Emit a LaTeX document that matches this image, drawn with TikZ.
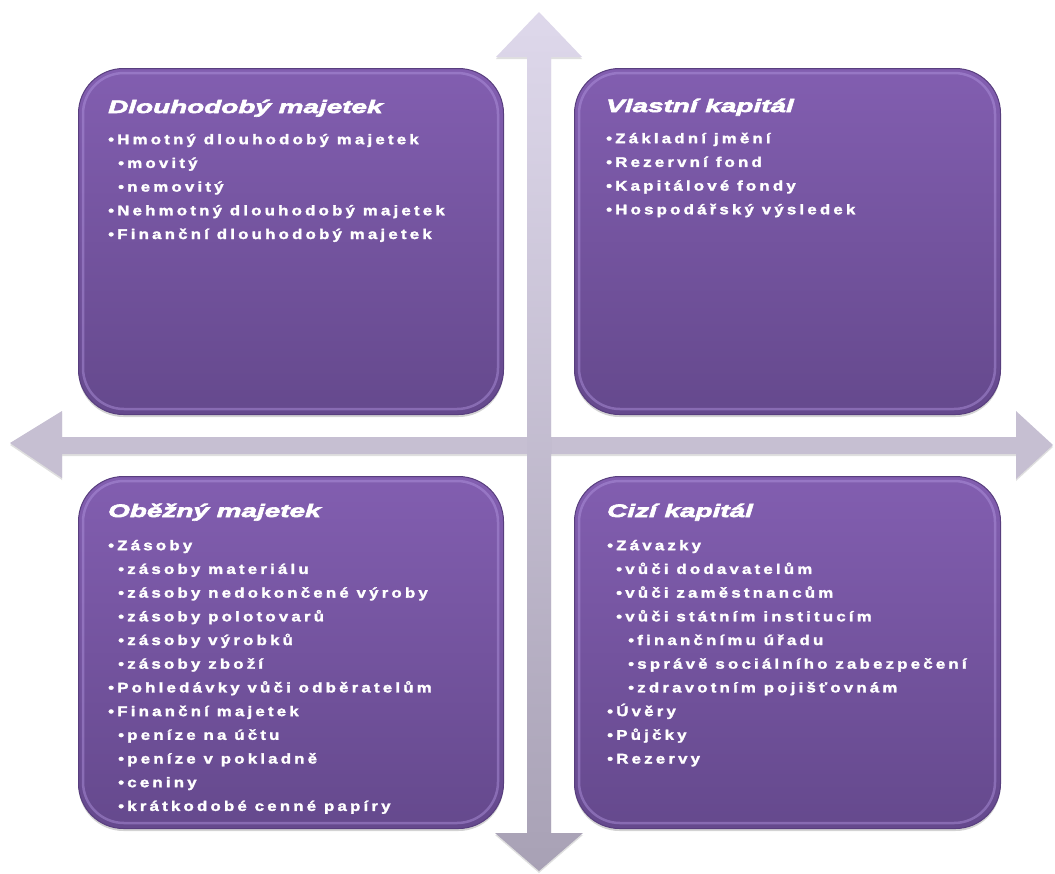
\documentclass[tikz,border=0pt]{standalone}
\usepackage{fontspec}
\newfontfamily\bodyfont[LetterSpace=23,FakeStretch=1.2,FakeBold=2]{Liberation Sans}
\newfontfamily\titlefont[FakeStretch=1.55,FakeBold=3.5]{Liberation Sans}
\usetikzlibrary{shadows}
\definecolor{boxtop}{RGB}{130,94,176}
\definecolor{boxbottom}{RGB}{101,73,141}
\definecolor{boxrim}{RGB}{88,62,126}
\definecolor{boxshine}{RGB}{178,150,224}
\definecolor{axistop}{RGB}{222,216,235}
\definecolor{axisbottom}{RGB}{168,161,181}
\definecolor{axismid}{RGB}{198,191,210}
\tikzset{
  quadbox/.style={rectangle, rounded corners=45pt, anchor=north west,
    top color=boxtop, bottom color=boxbottom, draw=boxrim, line width=1pt,
    drop shadow={opacity=0.35, shadow xshift=0pt, shadow yshift=-2.5pt}},
  bevel/.style={draw=boxshine, line width=2.5pt, opacity=0.45, rounded corners=41pt},
  boxtitle/.style={anchor=base west, inner sep=0pt, text=white,
    font=\titlefont\bfseries\itshape\fontsize{18}{20}\selectfont},
  boxitems/.style={anchor=north west, inner sep=0pt, text=white, align=left,
    font=\bodyfont\bfseries\fontsize{14}{23.7}\selectfont},
  axisarrow/.style={drop shadow={opacity=0.25, shadow xshift=0pt, shadow yshift=-2pt}}
}
\newcommand{\itemstrut}{\rule{0pt}{14pt}}
\begin{document}
\begin{tikzpicture}[x=1pt,y=-1pt]
  \useasboundingbox (0,0) rectangle (1055,873);

  % axes
  \path[axisarrow, fill=axismid] (10,443) -- (62,411) -- (62,437) -- (1016,437) -- (1016,411)
    -- (1053,445) -- (1016,479) -- (1016,454) -- (62,454) -- (62,478) -- cycle;
  \path[axisarrow, top color=axistop, bottom color=axisbottom] (539,12) -- (582,57) -- (551,57)
    -- (551,833) -- (583,833) -- (539,871) -- (495,833) -- (527,833) -- (527,57) -- (496,57) -- cycle;

  % quadrants
  \node[quadbox, minimum width=425pt, minimum height=346pt] (dlouhodoby) at (78,68) {};
  \node[quadbox, minimum width=426pt, minimum height=346pt] (vlastni) at (574,68) {};
  \node[quadbox, minimum width=425pt, minimum height=352pt] (obezny) at (78,476) {};
  \node[quadbox, minimum width=426pt, minimum height=352pt] (cizi) at (574,476) {};

  \draw[bevel] (83,73) rectangle (498,409);
  \draw[bevel] (579,73) rectangle (995,409);
  \draw[bevel] (83,481) rectangle (498,823);
  \draw[bevel] (579,481) rectangle (995,823);

  % texts
  \node[boxtitle] (dlouhodoby-title) at (108,113) {Dlouhodobý majetek};
  \node[boxitems] (dlouhodoby-items) at (108,130) {\itemstrut•Hmotný dlouhodobý majetek\\
    \hspace*{10pt}•movitý\\
    \hspace*{10pt}•nemovitý\\
    •Nehmotný dlouhodobý majetek\\
    •Finanční dlouhodobý majetek};

  \node[boxtitle] (vlastni-title) at (606,112) {Vlastní kapitál};
  \node[boxitems] (vlastni-items) at (606,129) {\itemstrut•Základní jmění\\
    •Rezervní fond\\
    •Kapitálové fondy\\
    •Hospodářský výsledek};

  \node[boxtitle] (obezny-title) at (108,517) {Oběžný majetek};
  \node[boxitems] (obezny-items) at (108,536) {\itemstrut•Zásoby\\
    \hspace*{10pt}•zásoby materiálu\\
    \hspace*{10pt}•zásoby nedokončené výroby\\
    \hspace*{10pt}•zásoby polotovarů\\
    \hspace*{10pt}•zásoby výrobků\\
    \hspace*{10pt}•zásoby zboží\\
    •Pohledávky vůči odběratelům\\
    •Finanční majetek\\
    \hspace*{10pt}•peníze na účtu\\
    \hspace*{10pt}•peníze v pokladně\\
    \hspace*{10pt}•ceniny\\
    \hspace*{10pt}•krátkodobé cenné papíry};

  \node[boxtitle] (cizi-title) at (607,517) {Cizí kapitál};
  \node[boxitems] (cizi-items) at (607,536) {\itemstrut•Závazky\\
    \hspace*{9pt}•vůči dodavatelům\\
    \hspace*{9pt}•vůči zaměstnancům\\
    \hspace*{9pt}•vůči státním institucím\\
    \hspace*{21pt}•finančnímu úřadu\\
    \hspace*{21pt}•správě sociálního zabezpečení\\
    \hspace*{21pt}•zdravotním pojišťovnám\\
    •Úvěry\\
    •Půjčky\\
    •Rezervy};
\end{tikzpicture}
\end{document}
